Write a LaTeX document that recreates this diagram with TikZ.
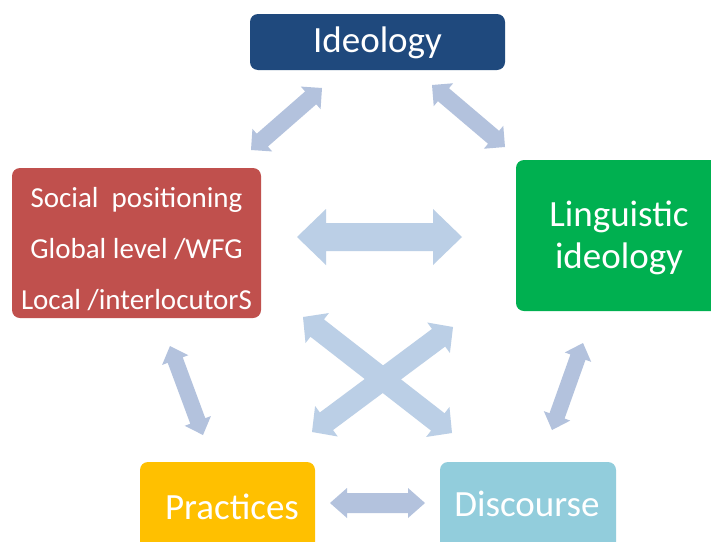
\documentclass[tikz,border=0pt]{standalone}
\usepackage{fontspec}
\setmainfont{Carlito}
\usetikzlibrary{calc}
\definecolor{ideoblue}{RGB}{31,73,125}
\definecolor{socred}{RGB}{192,80,77}
\definecolor{lingreen}{RGB}{0,176,80}
\definecolor{pracyellow}{RGB}{255,192,0}
\definecolor{discblue}{RGB}{146,205,220}
\definecolor{arrowA}{RGB}{179,194,221}
\definecolor{arrowB}{RGB}{187,207,230}
% block double arrow: #1 colour, #2 from, #3 to, #4 shaft half width, #5 head half width, #6 head length
\newcommand\dblarrow[6]{%
  \coordinate (ha) at ($(#2)!#6!(#3)$);
  \coordinate (hb) at ($(#3)!#6!(#2)$);
  \fill[#1] (#2) -- ($(ha)!#5!90:(#3)$) -- ($(ha)!#4!90:(#3)$) -- ($(hb)!#4!-90:(#2)$)
    -- ($(hb)!#5!-90:(#2)$) -- (#3) -- ($(hb)!#5!90:(#2)$) -- ($(hb)!#4!90:(#2)$)
    -- ($(ha)!#4!-90:(#3)$) -- ($(ha)!#5!-90:(#3)$) -- cycle;
}
\tikzset{
  box/.style={rounded corners=8pt, inner sep=0pt, text=white, align=center},
  lbl/.style={inner sep=0pt, text=white, align=center},
}
\begin{document}
\begin{tikzpicture}[x=1pt,y=-1pt]
\clip (0,0) rectangle (711,541);
\fill[white] (0,0) rectangle (711,541);

\node[box, fill=ideoblue, minimum width=255pt, minimum height=56pt] (ideo) at (377.5,42) {};
\node[lbl, font=\fontsize{37}{40}\selectfont] (ideoT) at (377.5,43) {Ideology};

\node[box, fill=socred, minimum width=249pt, minimum height=150pt] (soc) at (136.5,243) {};
\node[lbl, font=\fontsize{29}{51}\selectfont] (socT) at (136.5,249)
  {Social\ \ positioning\\Global level /WFG\\Local /interlocutorS};

\node[box, fill=lingreen, minimum width=206pt, minimum height=151pt] (ling) at (619,235.5) {};
\node[lbl, font=\fontsize{37}{42}\selectfont] (lingT) at (619,237.5) {Linguistic\\ideology};

\node[box, fill=pracyellow, minimum width=175pt, minimum height=90pt] (prac) at (227.5,507) {};
\node[lbl, font=\fontsize{37}{40}\selectfont] (pracT) at (232,507) {Practices};

\node[box, fill=discblue, minimum width=176pt, minimum height=90pt] (disc) at (528,507) {};
\node[lbl, font=\fontsize{37}{40}\selectfont] (discT) at (527,504) {Discourse};

% arrow end points
\coordinate (il1) at (251,150); \coordinate (il2) at (322,88);
\coordinate (ir1) at (432,85);  \coordinate (ir2) at (505,147);
\coordinate (ch1) at (297,237); \coordinate (ch2) at (462,237);
\coordinate (xa1) at (303,317); \coordinate (xa2) at (452,433);
\coordinate (xb1) at (312,432); \coordinate (xb2) at (453,327);
\coordinate (lv1) at (170,346); \coordinate (lv2) at (203,435);
\coordinate (rv1) at (583,343); \coordinate (rv2) at (552,430);
\coordinate (bh1) at (330,503); \coordinate (bh2) at (425,503);

\dblarrow{arrowA}{il1}{il2}{8.5pt}{15pt}{15pt}
\dblarrow{arrowA}{ir1}{ir2}{8.5pt}{15pt}{15pt}
\dblarrow{arrowB}{ch1}{ch2}{14pt}{28pt}{29pt}
\dblarrow{arrowB}{xa1}{xa2}{11pt}{19pt}{18pt}
\dblarrow{arrowB}{xb1}{xb2}{11pt}{19pt}{18pt}
\dblarrow{arrowA}{lv1}{lv2}{8pt}{14pt}{15pt}
\dblarrow{arrowA}{rv1}{rv2}{8pt}{14pt}{15pt}
\dblarrow{arrowA}{bh1}{bh2}{10pt}{15pt}{17pt}
\end{tikzpicture}
\end{document}
